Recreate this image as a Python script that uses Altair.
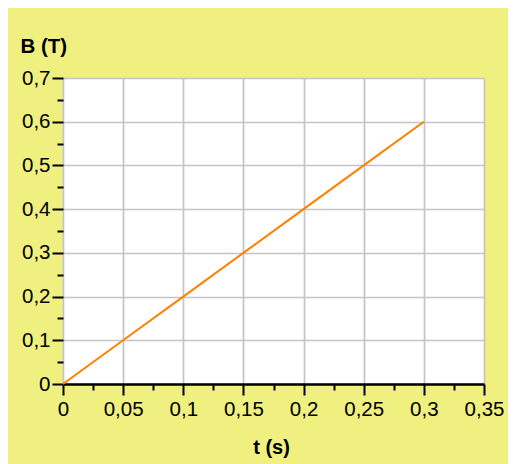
import altair as alt
import pandas as pd

# Data
t_values = [0, 0.05, 0.1, 0.15, 0.2, 0.25, 0.3]
b_values = [0, 0.1, 0.2, 0.3, 0.4, 0.5, 0.6]

x_ticks = [0, 0.025, 0.05, 0.075, 0.1, 0.125, 0.15, 0.175, 0.2, 0.225,
           0.25, 0.275, 0.3, 0.325, 0.35]
y_ticks = [0, 0.05, 0.1, 0.15, 0.2, 0.25, 0.3, 0.35, 0.4, 0.45, 0.5,
           0.55, 0.6, 0.65, 0.7]

df = pd.DataFrame({"t": t_values, "B": b_values})

FONT = "Liberation Sans, Arial, sans-serif"
X_MAJOR = "abs(datum.value*20 - round(datum.value*20)) < 0.001"
Y_MAJOR = "abs(datum.value*10 - round(datum.value*10)) < 0.001"

x_axis = alt.Axis(
    values=x_ticks,
    title="t (s)",
    titleFont=FONT, titleFontSize=20, titleFontWeight="bold", titleColor="black",
    titleX=208, titleY=69, titleBaseline="alphabetic", titleAlign="center",
    labelExpr=f"{X_MAJOR} ? replace(format(datum.value, '~g'), '.', ',') : ''",
    labelFont=FONT, labelFontSize=20.5, labelColor="black",
    labelFlush=False, labelOverlap=False, labelPadding=4,
    tickColor="black", tickWidth=2,
    tickSize={"condition": {"test": X_MAJOR, "value": 11}, "value": 6},
    domainColor="black", domainWidth=2.5,
    grid=True, gridColor="#c4c4c4", gridWidth=1.7,
    gridOpacity={"condition": {"test": X_MAJOR, "value": 1}, "value": 0},
)

y_axis = alt.Axis(
    values=y_ticks,
    title="B (T)",
    titleFont=FONT, titleFontSize=20.5, titleFontWeight="bold", titleColor="black",
    titleAngle=0, titleX=-43, titleY=-26, titleAlign="left", titleBaseline="alphabetic",
    labelExpr=f"{Y_MAJOR} ? replace(format(datum.value, '~g'), '.', ',') : ''",
    labelFont=FONT, labelFontSize=20.5, labelColor="black",
    labelFlush=False, labelOverlap=False, labelPadding=2,
    tickColor="black", tickWidth=2,
    tickSize={"condition": {"test": Y_MAJOR, "value": 11}, "value": 6},
    domain=False,
    grid=True, gridColor="#c4c4c4", gridWidth=1.7,
    gridOpacity={"condition": {"test": Y_MAJOR, "value": 1}, "value": 0},
)

chart = (
    alt.Chart(df)
    .mark_line(color="#ff8000", strokeWidth=2)
    .encode(
        x=alt.X("t:Q", scale=alt.Scale(domain=[0, 0.35], nice=False), axis=x_axis),
        y=alt.Y("B:Q", scale=alt.Scale(domain=[0, 0.7], nice=False), axis=y_axis),
    )
    .properties(
        width=421,
        height=306,
        background="#f0f080",
        padding={"left": 55, "top": 70, "right": 24, "bottom": 80},
        autosize=alt.AutoSizeParams(type="none"),
    )
    .configure_view(fill="white", stroke="transparent")
)

chart.save("out.html", embed_options={"renderer": "svg", "actions": False})
